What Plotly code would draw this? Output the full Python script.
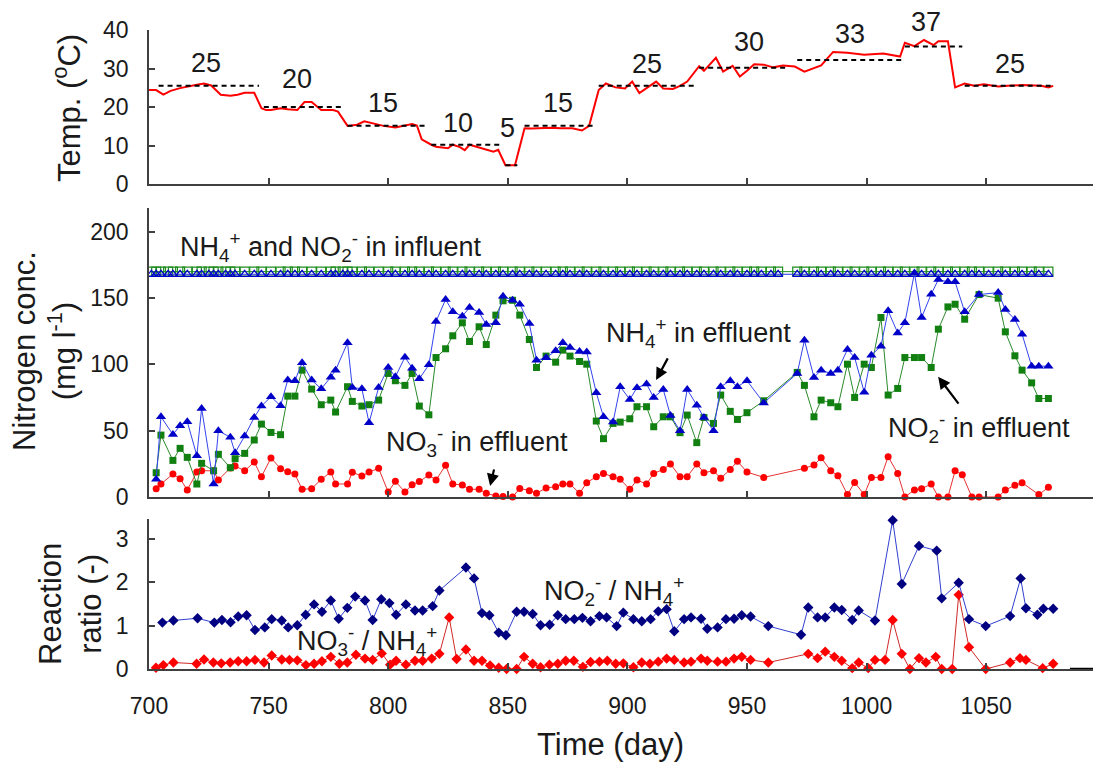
import plotly.graph_objects as go

# ---------------- data ----------------
temp_days = [700, 702, 703, 706, 709, 713, 717, 720, 723, 726, 730, 734, 737, 740, 744,
             747, 749, 751, 755, 758, 762, 765, 768, 772, 777, 779, 783, 787, 790, 794,
             798, 803, 806, 810, 812, 814, 818, 820, 825, 827, 830, 832, 834, 837, 841,
             844, 846, 849, 853, 857, 860, 864, 868, 872, 877, 881, 884, 888, 891, 895,
             899, 902, 905, 908, 912, 915, 919, 922, 925, 930, 932, 937, 940, 944, 947,
             950, 953, 957, 961, 965, 970, 974, 978, 981, 986, 992, 999, 1007, 1014, 1016,
             1020, 1024, 1028, 1030, 1034, 1037, 1041, 1045, 1049, 1055, 1059, 1065, 1073,
             1076, 1078]
temp_vals = [24.4, 24.5, 24.4, 23.2, 24.2, 24.9, 25.5, 25.8, 26.1, 25.6, 23.2, 22.9, 23.2, 23.7, 23.7,
             19.7, 19.2, 19.2, 19.7, 19.4, 19.2, 21.3, 21.3, 19.2, 19.2, 18.8, 15.1, 15.4, 16.3, 15.6,
             15.1, 14.7, 15.1, 15.6, 15.2, 11.6, 10.2, 9.7, 9.3, 10.2, 9.6, 8.8, 10.2, 9.6, 8.8,
             8.4, 8.9, 4.9, 4.9, 14.5, 14.4, 14.5, 14.6, 14.5, 14.5, 13.9, 15.1, 24.4, 26.1, 25.1,
             24.8, 26.6, 23.6, 24.9, 26.6, 24.8, 24.7, 25.5, 26.6, 30.6, 29.4, 32.8, 29.2, 30.7, 27.9,
             29.4, 31.1, 31.0, 30.3, 30.8, 30.5, 29.2, 30.1, 30.8, 34.3, 34.1, 33.6, 33.9, 33.1, 36.7,
             35.8, 37.4, 36.1, 37.1, 37.1, 25.1, 26.1, 25.5, 25.9, 25.3, 25.5, 25.7, 25.5,
             25.1, 25.5]

# set-point periods
sp_start = [704, 748, 783, 818, 849, 857, 888, 930, 971, 1016, 1041]
sp_end = [746, 781, 816, 848, 854, 886, 928, 967, 1016, 1040, 1078]
sp_vals = [25.5, 20.0, 15.1, 10.2, 4.9, 15.1, 25.5, 30.2, 32.2, 35.7, 25.5]
sp_labels = ["25", "20", "15", "10", "5", "15", "25", "30", "33", "37", "25"]
sp_label_days = [724, 762, 798, 829, 850, 871, 908, 951, 993, 1025, 1060]
sp_label_temps = [31.3, 27.4, 21.0, 15.8, 14.5, 21.0, 31.1, 37.0, 38.9, 42.2, 31.1]

# influent
infl_days = [701, 703, 705, 708, 710, 713, 716, 720, 722, 725, 727, 729, 732, 734, 736, 740,
             744, 747, 751, 755, 758, 761, 764, 768, 772, 776, 778, 781, 783, 785, 789, 792,
             796, 800, 803, 807, 810, 813, 817, 820, 824, 827, 831, 834, 838, 841, 845, 848,
             852, 855, 859, 862, 866, 870, 873, 876, 880, 883, 887, 890, 894, 897, 901, 904,
             908, 911, 915, 918, 922, 925, 929, 932, 936, 939, 943, 946, 950, 953, 956, 960,
             963, 971, 974, 978, 981, 985, 988, 992, 995, 999, 1002, 1006, 1009, 1013, 1016,
             1020, 1023, 1027, 1030, 1034, 1037, 1041, 1044, 1047, 1051, 1055, 1058, 1062,
             1065, 1069, 1072, 1076]
nh4_infl_level = 168.0
no2_infl_level = 170.0

# effluent NH4+ and NO2-
eff_days = [703, 705, 710, 713, 716, 720, 722, 727, 729, 734, 736, 740, 744, 747, 751, 755,
            758, 761, 764, 768, 772, 776, 778, 783, 785, 789, 792, 796, 800, 803, 807, 810,
            813, 817, 820, 824, 827, 831, 834, 838, 841, 845, 848, 852, 855, 859, 862, 866,
            870, 873, 876, 880, 883, 887, 890, 894, 897, 901, 904, 908, 911, 915, 918, 922,
            925, 929, 932, 936, 939, 943, 946, 950, 957, 971, 974, 978, 981, 985, 988, 992,
            995, 999, 1002, 1006, 1009, 1013, 1016, 1020, 1023, 1027, 1030, 1034, 1037, 1041,
            1047, 1055, 1058, 1062, 1065, 1069, 1072, 1076]
nh4_eff = [13.3, 60.5, 47.2, 53.8, 56.8, 31.2, 66.8, 9.8, 50.0, 45.0, 33.4, 46.0, 60.0, 68.6, 75.6, 68.8,
           88.2, 87.7, 101.2, 88.2, 81.6, 90.4, 95.7, 116.3, 82.6, 81.6, 56.0, 82.6, 97.7, 90.7, 105.5, 97.2,
           89.2, 99.7, 132.4, 149.0, 139.7, 136.4, 142.9, 139.2, 130.1, 131.4, 151.5, 148.5, 145.4, 130.9, 103.2, 105.0,
           110.3, 116.3, 112.8, 109.8, 109.3, 78.6, 60.5, 56.5, 83.2, 73.6, 82.4, 85.2, 75.1, 81.1, 61.5, 50.0,
           81.1, 69.3, 60.0, 50.0, 83.2, 87.7, 83.2, 87.7, 71.0, 93.2, 118.3, 90.2, 95.7, 93.2, 95.7, 111.3,
           105.2, 79.1, 107.0, 113.8, 140.4, 123.8, 131.4, 169.0, 135.4, 153.0, 164.0, 162.3, 162.3, 139.7,
           152.7, 154.2, 141.4, 133.9, 122.8, 98.7, 98.7, 98.7]
no2_eff = [18.3, 46.7, 27.6, 36.7, 29.9, 9.8, 25.4, 19.8, 32.2, 22.1, 28.9, 32.9, 43.0, 55.0, 48.7, 47.0,
           76.1, 76.1, 95.7, 81.4, 69.6, 73.1, 64.1, 83.2, 72.1, 68.6, 69.6, 73.1, 93.2, 87.7, 84.2, 93.2,
           68.6, 62.0, 105.2, 111.8, 121.6, 131.4, 117.3, 128.4, 115.0, 137.2, 148.0, 148.4, 137.2, 118.8, 97.7, 106.3,
           101.7, 110.8, 106.3, 102.2, 100.2, 57.3, 44.0, 55.5, 56.5, 59.0, 68.1, 68.1, 53.0, 60.5, 60.5, 48.5,
           61.8, 41.0, 60.0, 55.5, 76.9, 64.6, 58.5, 63.6, 72.6, 94.0, 84.2, 60.5, 73.1, 71.1, 68.1, 100.2,
           75.1, 100.2, 97.7, 135.4, 76.9, 81.9, 105.2, 105.2, 105.2, 97.7, 126.6, 143.4, 145.4, 134.1,
           152.7, 150.0, 124.6, 106.5, 95.7, 86.1, 74.3, 74.3]

# effluent NO3-
no3_days = [703, 705, 710, 713, 716, 720, 722, 727, 729, 734, 736, 740, 744, 747, 751, 755,
            758, 761, 764, 768, 772, 776, 778, 783, 785, 789, 792, 796, 800, 803, 807, 810,
            813, 817, 820, 824, 827, 831, 834, 838, 841, 845, 848, 852, 855, 859, 862, 866,
            870, 873, 876, 880, 883, 887, 890, 894, 897, 901, 904, 908, 911, 915, 918, 922,
            925, 929, 932, 936, 939, 943, 946, 950, 957, 974, 978, 981, 985, 988, 992, 995,
            999, 1002, 1006, 1009, 1013, 1016, 1020, 1023, 1027, 1030, 1034, 1037, 1040, 1044,
            1047, 1055, 1058, 1062, 1065, 1072, 1076]
no3_eff = [6.3, 9.8, 17.3, 13.8, 5.3, 18.8, 19.8, 19.8, 12.8, 21.9, 23.4, 19.8, 26.4, 15.3, 29.4, 21.4,
           19.1, 17.3, 5.8, 6.3, 13.3, 18.8, 9.8, 9.8, 18.6, 15.8, 18.8, 21.6, 3.8, 11.8, 3.8, 9.3,
           11.6, 16.6, 12.8, 23.9, 9.8, 9.0, 5.8, 5.8, 2.8, 0.8, 0.3, 0.0, 6.5, 4.8, 2.8, 6.8,
           7.8, 9.8, 9.8, 2.8, 10.8, 15.3, 17.8, 15.3, 13.3, 5.8, 12.8, 9.8, 17.8, 20.8, 24.9, 15.3,
           15.3, 24.9, 18.3, 19.8, 14.1, 20.8, 26.9, 18.8, 14.8, 21.6, 24.1, 29.6, 19.8, 16.1, 1.8, 11.0,
           1.8, 14.8, 14.8, 30.4, 17.8, 0.0, 5.3, 6.3, 9.8, 0.0, 0.0, 19.8, 16.8, 0.0,
           0.0, 0.0, 5.3, 8.8, 10.8, 1.8, 7.3]

# reaction ratios
r_no2_days = [705.6, 710.2, 720.3, 727.3, 730.5, 734.1, 737.3, 740.8, 744.3, 748.4, 751.3, 755.5,
              758.2, 762.0, 765.5, 769.0, 772.3, 776.0, 779.3, 782.9, 786.2, 790.3, 793.5, 797.1,
              800.5, 803.3, 807.4, 811.2, 814.4, 818.6, 821.4, 832.5, 835.9, 839.2, 842.3, 846.2,
              849.2, 853.7, 856.8, 860.4, 863.7, 867.5, 870.9, 874.2, 877.8, 881.2, 884.6, 888.3,
              891.3, 895.5, 898.3, 902.5, 906.0, 909.7, 912.9, 916.4, 919.6, 923.7, 926.6, 930.8,
              933.4, 937.7, 941.2, 944.6, 947.8, 951.5, 958.9, 972.6, 975.6, 979.5, 982.7, 986.5,
              989.6, 994.0, 996.7, 1003.5, 1010.9, 1014.7, 1021.9, 1029.3, 1031.4, 1038.5, 1042.8,
              1049.8, 1060.0, 1064.4, 1066.6, 1071.4, 1073.9, 1078.0]
r_no2 = [1.07, 1.12, 1.17, 1.07, 1.13, 1.08, 1.21, 1.24, 0.90, 0.96, 1.15, 1.12,
         0.96, 1.01, 1.25, 1.49, 1.32, 1.58, 1.16, 1.41, 1.67, 1.58, 1.13, 1.61,
         1.52, 1.25, 1.49, 1.35, 1.35, 1.45, 1.81, 2.34, 2.09, 1.29, 1.24, 0.84,
         0.78, 1.32, 1.32, 1.27, 1.01, 1.02, 1.24, 1.15, 1.15, 1.18, 1.10, 1.22,
         1.19, 0.99, 1.30, 1.15, 1.10, 1.15, 1.33, 1.38, 0.87, 1.15, 1.19, 1.16,
         0.93, 0.96, 1.15, 1.16, 1.24, 1.21, 0.99, 0.79, 1.42, 1.19, 1.19, 1.42,
         1.36, 1.13, 1.35, 1.12, 3.43, 1.96, 2.84, 2.73, 1.63, 1.99, 1.15,
         0.99, 1.22, 2.09, 1.40, 1.25, 1.39, 1.39]
r_no3_days = [702.9, 706.0, 710.2, 719.9, 723.0, 726.9, 730.2, 733.9, 737.3, 740.8, 744.3, 748.1,
              751.3, 755.5, 758.7, 762.0, 765.6, 769.0, 772.3, 776.0, 779.6, 782.9, 786.5, 790.3,
              793.5, 797.3, 800.8, 803.3, 807.4, 811.2, 814.4, 818.2, 821.4, 825.5, 828.6, 832.5,
              835.9, 839.2, 842.6, 846.2, 849.5, 853.7, 856.8, 860.4, 863.7, 867.4, 870.9, 874.2,
              877.6, 881.4, 884.6, 888.3, 891.6, 895.1, 898.3, 902.5, 906.0, 909.4, 912.9, 916.4,
              919.6, 923.7, 926.6, 930.8, 933.4, 937.7, 941.2, 944.6, 947.8, 951.5, 958.9, 975.6,
              979.5, 982.7, 986.5, 989.6, 994.0, 996.7, 1000.7, 1003.5, 1007.7, 1010.9, 1014.7,
              1018.1, 1021.9, 1024.8, 1028.9, 1031.4, 1035.8, 1038.5, 1042.8, 1049.8, 1060.0,
              1064.1, 1066.6, 1073.6, 1078.0]
r_no3 = [0.03, 0.09, 0.15, 0.12, 0.22, 0.15, 0.13, 0.15, 0.18, 0.18, 0.21, 0.15,
         0.31, 0.22, 0.21, 0.20, 0.09, 0.12, 0.18, 0.28, 0.12, 0.15, 0.33, 0.24,
         0.21, 0.36, 0.10, 0.19, 0.10, 0.19, 0.19, 0.24, 0.35, 1.19, 0.23, 0.45,
         0.19, 0.19, 0.08, 0.03, 0.00, 0.00, 0.28, 0.12, 0.04, 0.10, 0.12, 0.19,
         0.19, 0.05, 0.16, 0.17, 0.19, 0.12, 0.13, 0.04, 0.15, 0.12, 0.17, 0.24,
         0.21, 0.15, 0.17, 0.24, 0.19, 0.17, 0.17, 0.24, 0.28, 0.21, 0.15, 0.35,
         0.25, 0.40, 0.28, 0.19, 0.02, 0.15, 0.02, 0.21, 0.21, 1.13, 0.35,
         0.00, 0.25, 0.15, 0.28, 0.00, 0.00, 1.71, 0.50, 0.00, 0.15,
         0.25, 0.21, 0.02, 0.12]

x_ticks = [700, 750, 800, 850, 900, 950, 1000, 1050]
temp_ticks = [0, 10, 20, 30, 40]
n_ticks = [0, 50, 100, 150, 200]
r_ticks = [0, 1, 2, 3]

# ---------------- layout geometry (page pixels; page body has an 8px margin) ----------------
OFF = 8
W, H = 1101 - OFF, 762 - OFF
PL, PT, PB = 149, 30, 669          # plot area in page pixels
L, R, T = PL - OFF, 1, PT - OFF
B = H - (PB - OFF)
PH = PB - PT
PW = W - L - R


def py2paper(py):
    return (PB - py) / PH


def px2paper(px):
    return (px - PL) / PW


FONT = "Liberation Sans, Arial, sans-serif"
TXT = "#1a1a1a"
AXC = "#404040"

fig = go.Figure()

# ---- top panel: temperature ----
fig.add_trace(go.Scatter(x=temp_days, y=temp_vals, mode="lines",
                         line=dict(color="#ff0000", width=2), xaxis="x3", yaxis="y3",
                         hoverinfo="skip"))
sp_x, sp_y = [], []
for s, e, v in zip(sp_start, sp_end, sp_vals):
    sp_x += [s, e, None]
    sp_y += [v, v, None]
fig.add_trace(go.Scatter(x=sp_x, y=sp_y, mode="lines",
                         line=dict(color="black", width=2, dash="5px,4px"),
                         xaxis="x3", yaxis="y3", hoverinfo="skip"))

# ---- middle panel: nitrogen ----
fig.add_trace(go.Scatter(x=infl_days, y=[no2_infl_level] * len(infl_days), mode="lines+markers",
                         line=dict(color="#1e8c1e", width=1),
                         marker=dict(symbol="square-open", size=9, color="#1e8c1e",
                                     line=dict(width=1.2)),
                         xaxis="x2", yaxis="y2"))
fig.add_trace(go.Scatter(x=infl_days, y=[nh4_infl_level] * len(infl_days), mode="lines+markers",
                         line=dict(color="#2233dd", width=1),
                         marker=dict(symbol="triangle-up-open", size=8, color="#0000cc",
                                     line=dict(width=1.2)),
                         xaxis="x2", yaxis="y2"))
fig.add_trace(go.Scatter(x=no3_days, y=no3_eff, mode="lines+markers",
                         line=dict(color="#e83030", width=1),
                         marker=dict(symbol="circle", size=7, color="#ff0000"),
                         cliponaxis=False, xaxis="x2", yaxis="y2"))
fig.add_trace(go.Scatter(x=eff_days, y=no2_eff, mode="lines+markers",
                         line=dict(color="#2a8a2a", width=1),
                         marker=dict(symbol="square", size=7, color="#118011"),
                         cliponaxis=False, xaxis="x2", yaxis="y2"))
fig.add_trace(go.Scatter(x=eff_days, y=nh4_eff, mode="lines+markers",
                         line=dict(color="#3344ee", width=1),
                         marker=dict(symbol="triangle-up", size=9, color="#0000c8"),
                         cliponaxis=False, xaxis="x2", yaxis="y2"))

# ---- bottom panel: ratios ----
fig.add_trace(go.Scatter(x=r_no3_days, y=r_no3, mode="lines+markers",
                         line=dict(color="#d02828", width=1),
                         marker=dict(symbol="diamond", size=8, color="#ff0000"),
                         cliponaxis=False, xaxis="x", yaxis="y"))
fig.add_trace(go.Scatter(x=r_no2_days, y=r_no2, mode="lines+markers",
                         line=dict(color="#3040d0", width=1),
                         marker=dict(symbol="diamond", size=8, color="#000080"),
                         cliponaxis=False, xaxis="x", yaxis="y"))

axis_common = dict(showline=True, linecolor=AXC, linewidth=1.5, ticks="inside", ticklen=6,
                   tickcolor=AXC, tickwidth=1.5, showgrid=False, zeroline=False,
                   tickfont=dict(family=FONT, size=23, color=TXT))

xr = [700, 700 + PW / 2.392]
top_dom = [py2paper(184), py2paper(30)]
mid_dom = [py2paper(497), py2paper(208)]
bot_dom = [py2paper(669), py2paper(519)]
fig.update_layout(
    xaxis=dict(axis_common, anchor="y", domain=[0, 1], range=xr, tickvals=x_ticks,
               ticklabelstandoff=16),
    xaxis2=dict(axis_common, anchor="y2", domain=[0, 1], range=xr, tickvals=x_ticks,
                showticklabels=False, matches="x"),
    xaxis3=dict(axis_common, anchor="y3", domain=[0, 1], range=xr, tickvals=x_ticks,
                showticklabels=False, matches="x"),
    yaxis=dict(axis_common, anchor="x", domain=bot_dom,
               range=[0, 3.46], tickvals=r_ticks, ticklabelstandoff=14),
    yaxis2=dict(axis_common, anchor="x2", domain=mid_dom,
                range=[0, 218], tickvals=n_ticks, ticklabelstandoff=14),
    yaxis3=dict(axis_common, anchor="x3", domain=top_dom,
                range=[0, 40], tickvals=temp_ticks, ticklabelstandoff=14),
    width=W, height=H,
    margin=dict(l=L, r=R, t=T, b=B),
    paper_bgcolor="white", plot_bgcolor="white",
    showlegend=False,
    font=dict(family=FONT, color=TXT),
)

ann = []
# set-point labels (paper coordinates so that labels above the axis top still show)
for lab, d, t in zip(sp_labels, sp_label_days, sp_label_temps):
    yp = top_dom[0] + (top_dom[1] - top_dom[0]) * t / 40.0
    ann.append(dict(x=d, y=yp, xref="x3", yref="paper", text=lab, showarrow=False,
                    xanchor="center", yanchor="middle",
                    font=dict(size=27, family=FONT, color=TXT)))

AF = dict(size=27, family=FONT, color=TXT)
# middle panel text
ann += [
    dict(x=712, y=188.6, xref="x2", yref="y2", xanchor="left", yanchor="middle",
         text="NH<sub>4</sub><sup>+</sup> and NO<sub>2</sub><sup>-</sup> in influent",
         showarrow=False, font=AF),
    dict(x=798.2, y=41.7, xref="x2", yref="y2", xanchor="left", yanchor="middle",
         text="NO<sub>3</sub><sup>-</sup> in effluent", showarrow=False, font=AF),
    dict(x=890.2, y=123.6, xref="x2", yref="y2", xanchor="left", yanchor="middle",
         text="NH<sub>4</sub><sup>+</sup> in effluent", showarrow=False, font=AF),
    dict(x=1008, y=52.2, xref="x2", yref="y2", xanchor="left", yanchor="middle",
         text="NO<sub>2</sub><sup>-</sup> in effluent", showarrow=False, font=AF),
]
# arrows
for (hx, hy, tx, ty) in [(842.6, 8.3, 844.4, 21.9), (912.0, 88.2, 917.2, 105.7),
                         (1029.9, 90.7, 1038.9, 69.3)]:
    ann.append(dict(x=hx, y=hy, ax=tx, ay=ty, xref="x2", yref="y2", axref="x2", ayref="y2",
                    text="", showarrow=True, arrowhead=2, arrowsize=1.1, arrowwidth=2.2,
                    arrowcolor="black"))
# bottom panel text
ann += [
    dict(x=864.2, y=1.81, xref="x", yref="y", xanchor="left", yanchor="middle",
         text="NO<sub>2</sub><sup>-</sup> / NH<sub>4</sub><sup>+</sup>", showarrow=False, font=AF),
    dict(x=761.0, y=0.65, xref="x", yref="y", xanchor="left", yanchor="middle",
         text="NO<sub>3</sub><sup>-</sup> / NH<sub>4</sub><sup>+</sup>", showarrow=False, font=AF),
]
# axis titles
TF = dict(size=31, family=FONT, color=TXT)
ann += [
    dict(x=px2paper(610), y=py2paper(744), xref="paper", yref="paper", text="Time (day)",
         showarrow=False, font=TF, xanchor="center", yanchor="middle"),
    dict(x=px2paper(67), y=py2paper(108), xref="paper", yref="paper",
         text="Temp. (<sup>o</sup>C)", textangle=-90, showarrow=False, font=TF,
         xanchor="center", yanchor="middle"),
    dict(x=px2paper(45), y=py2paper(351), xref="paper", yref="paper",
         text="Nitrogen conc.<br>(mg l<sup>-1</sup>)", textangle=-90, showarrow=False, font=TF,
         xanchor="center", yanchor="middle"),
    dict(x=px2paper(70), y=py2paper(604), xref="paper", yref="paper",
         text="Reaction<br>ratio (-)", textangle=-90, showarrow=False, font=TF,
         xanchor="center", yanchor="middle"),
]
fig.update_layout(annotations=ann)

# small thick segment at the end of the bottom axis
fig.add_shape(type="line", x0=1085, x1=xr[1], y0=0, y1=0, xref="x", yref="y",
              line=dict(color="black", width=2.5))

fig.write_html("out.html")
